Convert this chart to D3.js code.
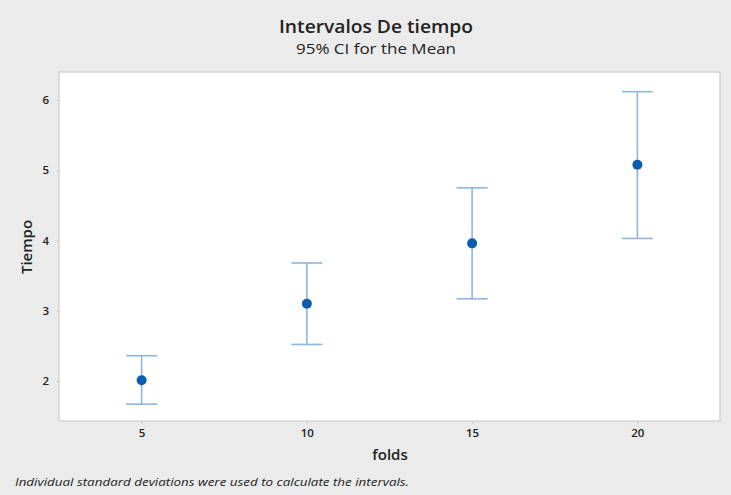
<!DOCTYPE html>
<html>
<head>
<meta charset="utf-8">
<script src="https://cdn.jsdelivr.net/npm/d3@7"></script>
<style>
  body { margin: 0; background: #ebebeb; }
  text { font-family: "Open Sans", "Noto Sans", sans-serif; fill: #222; }
</style>
</head>
<body>
<div id="chart"></div>
<script>
// data
const folds = [5, 10, 15, 20];
const means = [2.01, 3.10, 3.96, 5.08];
const lower = [1.67, 2.52, 3.17, 4.03];
const upper = [2.36, 3.68, 4.75, 6.12];
const yTicks = [2, 3, 4, 5, 6];

const width = 731;
const height = 495;
const plot = { left: 59, right: 720, top: 72, bottom: 421 };

const svg = d3.select("#chart")
    .append("svg")
    .attr("width", width)
    .attr("height", height);

svg.append("rect")
    .attr("width", width)
    .attr("height", height)
    .attr("fill", "#ebebeb");

// scales
const x = d3.scaleLinear().domain([2.5, 22.5]).range([plot.left, plot.right]);
const y = d3.scaleLinear().domain([1.43, 6.4]).range([plot.bottom, plot.top]);

// plot area
svg.append("rect")
    .attr("x", plot.left)
    .attr("y", plot.top)
    .attr("width", plot.right - plot.left)
    .attr("height", plot.bottom - plot.top)
    .attr("fill", "#ffffff")
    .attr("stroke", "#d4d4d4")
    .attr("stroke-width", 1.5);

// axes
const xAxis = svg.append("g")
    .attr("transform", `translate(0,${plot.bottom})`)
    .call(d3.axisBottom(x).tickValues(folds).tickSize(3).tickPadding(5));

const yAxis = svg.append("g")
    .attr("transform", `translate(${plot.left},0)`)
    .call(d3.axisLeft(y).tickValues(yTicks).tickFormat(d3.format("d")).tickSize(3).tickPadding(7));

[xAxis, yAxis].forEach(a => {
    a.select(".domain").remove();
    a.selectAll(".tick line").attr("stroke", "#d0d0d0");
    a.selectAll(".tick text")
        .attr("font-size", 11.5)
        .attr("font-weight", 600)
        .attr("fill", "#333")
        .style("font-family", "'Open Sans', sans-serif");
});

// error bars
const capHalf = 15.5;
const barColor = "#8db6da";
const bars = svg.append("g");
folds.forEach((f, i) => {
    const g = bars.append("g");
    g.append("line")
        .attr("x1", x(f)).attr("x2", x(f))
        .attr("y1", y(lower[i])).attr("y2", y(upper[i]))
        .attr("stroke", barColor).attr("stroke-width", 1.6);
    g.append("line")
        .attr("x1", x(f) - capHalf).attr("x2", x(f) + capHalf)
        .attr("y1", y(upper[i])).attr("y2", y(upper[i]))
        .attr("stroke", barColor).attr("stroke-width", 1.6);
    g.append("line")
        .attr("x1", x(f) - capHalf).attr("x2", x(f) + capHalf)
        .attr("y1", y(lower[i])).attr("y2", y(lower[i]))
        .attr("stroke", barColor).attr("stroke-width", 1.6);
});

// means
svg.append("g")
    .selectAll("circle")
    .data(folds)
    .enter()
    .append("circle")
    .attr("cx", d => x(d))
    .attr("cy", (d, i) => y(means[i]))
    .attr("r", 5)
    .attr("fill", "#0b5cad");

// titles
svg.append("text")
    .attr("x", 376)
    .attr("y", 33)
    .attr("text-anchor", "middle")
    .attr("font-size", 18)
    .attr("font-weight", 600)
    .attr("textLength", 194)
    .attr("lengthAdjust", "spacingAndGlyphs")
    .text("Intervalos De tiempo");

svg.append("text")
    .attr("x", 376)
    .attr("y", 54)
    .attr("text-anchor", "middle")
    .attr("font-size", 14)
    .attr("font-weight", 500)
    .attr("fill", "#333")
    .attr("textLength", 160)
    .attr("lengthAdjust", "spacingAndGlyphs")
    .text("95% CI for the Mean");

svg.append("text")
    .attr("x", 390)
    .attr("y", 460)
    .attr("text-anchor", "middle")
    .attr("font-size", 15)
    .attr("font-weight", 600)
    .text("folds");

svg.append("text")
    .attr("transform", "translate(32,247) rotate(-90)")
    .attr("text-anchor", "middle")
    .attr("font-size", 15)
    .attr("font-weight", 600)
    .text("Tiempo");

svg.append("text")
    .attr("x", 15)
    .attr("y", 486)
    .attr("font-size", 11)
    .attr("font-style", "italic")
    .attr("fill", "#444")
    .attr("textLength", 394)
    .attr("lengthAdjust", "spacingAndGlyphs")
    .text("Individual standard deviations were used to calculate the intervals.");
</script>
</body>
</html>
